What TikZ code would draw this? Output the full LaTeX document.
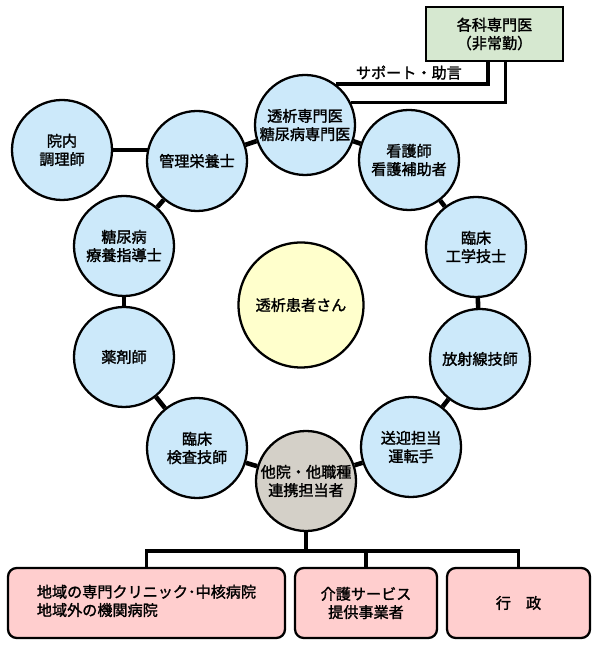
\documentclass[tikz,border=0pt]{standalone}
\usepackage{fontspec}
\setmainfont{Noto Sans CJK JP}[FakeBold=1.6]
\usetikzlibrary{backgrounds}
\definecolor{staffblue}{RGB}{204,233,250}
\definecolor{patientyellow}{RGB}{255,255,204}
\definecolor{liaisongrey}{RGB}{212,208,200}
\definecolor{advgreen}{RGB}{214,232,208}
\definecolor{outpink}{RGB}{255,206,206}
\tikzset{
  staff/.style={
    draw,
    circle,
    line width=1.3pt,
    fill=staffblue,
    align=center,
    inner sep=0pt,
    minimum size=2cm,
    font=\fontsize{8.6}{10.4}\selectfont,
  },
  patient/.style={staff, fill=patientyellow, minimum size=2.5cm},
  liaison/.style={staff, fill=liaisongrey},
  advisor/.style={
    draw,
    rectangle,
    line width=1.3pt,
    fill=advgreen,
    align=center,
    minimum width=2.74cm,
    minimum height=1.08cm,
    font=\fontsize{8.6}{10.4}\selectfont,
  },
  outside/.style={
    draw,
    rectangle,
    rounded corners=5pt,
    line width=1.3pt,
    fill=outpink,
    align=center,
    minimum height=1.4cm,
    font=\fontsize{8.6}{10.4}\selectfont,
  },
  link/.style={line width=2.6pt},
  wire/.style={line width=2.1pt},
  lbl/.style={font=\fontsize{8.6}{10.4}\selectfont, inner sep=1.5pt},
}
\begin{document}
\begin{tikzpicture}
  \useasboundingbox (0,0) rectangle (12,13);

  % patient in the middle
  \node[patient] (kanja) at (6.02,6.9) {透析患者さん};

  % ring of staff
  \node[staff] (senmon) at (6.1,10.5) {透析専門医\\糖尿病専門医};
  \node[staff] (kango) at (8.18,9.8) {看護師\\看護補助者};
  \node[staff] (kogaku) at (9.52,8.06) {臨床\\工学技士};
  \node[staff] (hoshasen) at (9.6,5.82) {放射線技師};
  \node[staff] (sogei) at (8.22,4.06) {送迎担当\\運転手};
  \node[liaison] (renkei) at (6.12,3.38) {他院・他職種\\連携担当者};
  \node[staff] (kensa) at (3.94,4.04) {臨床\\検査技師};
  \node[staff] (yakuzai) at (2.48,5.86) {薬剤師};
  \node[staff] (ryoyo) at (2.48,8.08) {糖尿病\\療養指導士};
  \node[staff] (eiyo) at (3.94,9.78) {管理栄養士};
  \node[staff] (chori) at (1.24,10.0) {院内\\調理師};

  % visiting specialists
  \node[advisor] (bunka) at (9.89,12.32) {各科専門医\\（非常勤）};

  % outside partners
  \node[outside, minimum width=5.54cm] (iryo) at (2.93,0.94)
    {\begin{tabular}{@{}l@{}}地域の専門クリニック･中核病院\\地域外の機関病院\end{tabular}};
  \node[outside, minimum width=2.84cm] (kaigo) at (7.32,0.94) {介護サービス\\提供事業者};
  \node[outside, minimum width=2.86cm] (gyosei) at (10.37,0.94) {行　政};

  \begin{scope}[on background layer]
    \foreach \a/\b in {senmon/kango, kango/kogaku, kogaku/hoshasen,
      hoshasen/sogei, sogei/renkei, renkei/kensa, kensa/yakuzai,
      yakuzai/ryoyo, ryoyo/eiyo, eiyo/senmon}
      \draw[link] (\a) -- (\b);
    \draw[link] (chori) -- (chori -| eiyo);
  \end{scope}

  \draw[wire] (senmon.53) -| node[lbl, pos=0.24, above] {サポート・助言}
    ([xshift=-0.13cm]bunka.south);
  \draw[wire] (senmon.26) -| ([xshift=0.22cm]bunka.south);

  \draw[wire] (renkei.south) -- ++(0,-0.38) -| (iryo.north);
  \draw[wire] (renkei.south) -- ++(0,-0.38) -| (kaigo.north);
  \draw[wire] (renkei.south) -- ++(0,-0.38) -| (gyosei.north);
\end{tikzpicture}
\end{document}
